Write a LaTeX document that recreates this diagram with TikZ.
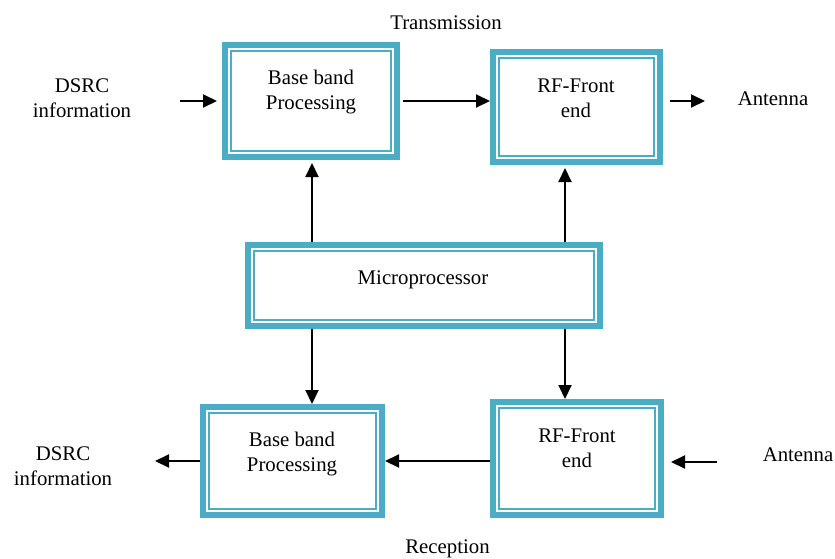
\documentclass[tikz,border=0pt]{standalone}
\usepackage{fontspec}
\setmainfont{Liberation Serif}
\usetikzlibrary{arrows.meta}
\definecolor{blkcl}{RGB}{75,172,198}
\newcommand{\blkbw}{3pt}
\newcommand{\blkiw}{1pt}
\newcommand{\blkin}{3.2pt}
\tikzset{
  blk/.style={draw=blkcl, line width=\blkbw, fill=white, inner sep=0pt,
    path picture={\draw[blkcl, line width=\blkiw]
      ([shift={(\blkin,\blkin)}]path picture bounding box.south west) rectangle
      ([shift={(-\blkin,-\blkin)}]path picture bounding box.north east);}},
  txt/.style={align=center, inner sep=0pt},
  arr/.style={line width=1pt, -{Triangle[length=7pt,width=6.5pt]}}
}
\begin{document}
\begin{tikzpicture}[x=0.5pt,y=-0.5pt,font=\fontsize{10.4pt}{12.5pt}\selectfont]
  \useasboundingbox (0,0) rectangle (835,558);

  % blocks
  \node[blk, minimum width=86pt, minimum height=56pt] (bbt) at (311,101) {};
  \node[blk, minimum width=83.5pt, minimum height=55pt] (rft) at (576.5,107) {};
  \node[blk, minimum width=176pt, minimum height=40.5pt] (mic) at (424,285.5) {};
  \node[blk, minimum width=84pt, minimum height=56.5pt] (rfb) at (577,458.5) {};
  \node[blk, minimum width=89.5pt, minimum height=54pt] (bbb) at (292.5,461) {};

  \node[txt] (bbttx) at (311,92) {Base band\\Processing};
  \node[txt] (rfttx) at (576,98.5) {RF-Front\\end};
  \node[txt] (mictx) at (423,280) {Microprocessor};
  \node[txt] (rfbtx) at (577,448.5) {RF-Front\\end};
  \node[txt] (bbbtx) at (292,454) {Base band\\Processing};

  % outside labels
  \node[txt] (trns) at (446,23) {Transmission};
  \node[txt] (rcpt) at (447.5,549) {Reception};
  \node[txt] (dsrct) at (82,98) {DSRC\\information};
  \node[txt] (antt) at (773,99) {Antenna};
  \node[txt] (dsrcb) at (63,466) {DSRC\\information};
  \node[txt] (antb) at (798,455) {Antenna};

  \coordinate (inT) at (180,101);
  \coordinate (outT) at (705,101);
  \coordinate (outB) at (155,461);
  \coordinate (inB) at (717,462);
  \coordinate (lcol) at (312,0);
  \coordinate (rcol) at (565,0);

  % transmission path
  \draw[arr, shorten >=2.5pt] (inT) -- (inT -| bbt.west);
  \draw[arr, shorten <=1.5pt] (bbt.east) -- (bbt.east -| rft.west);
  \draw[arr, shorten <=3.5pt] (rft.east |- outT) -- (outT);

  % control lines
  \draw[arr, shorten >=1.5pt] (lcol |- mic.north) -- (lcol |- bbt.south);
  \draw[arr, shorten >=1.5pt] (rcol |- mic.north) -- (rcol |- rft.south);
  \draw[arr] (lcol |- mic.south) -- (lcol |- bbb.north);
  \draw[arr] (rcol |- mic.south) -- (rcol |- rfb.north);

  % reception path
  \draw[arr, shorten >=3.5pt] (inB) -- (rfb.east |- inB);
  \draw[arr] (rfb.west |- bbb.east) -- (bbb.east);
  \draw[arr] (bbb.west) -- (outB);
\end{tikzpicture}
\end{document}
